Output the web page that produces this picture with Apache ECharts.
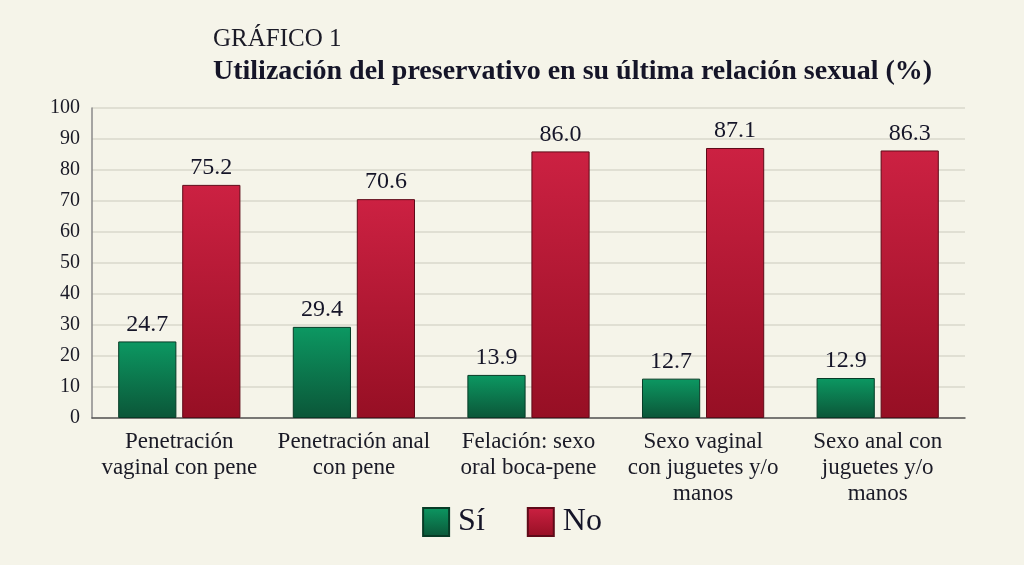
<!DOCTYPE html>
<html>
<head>
<meta charset="utf-8">
<script src="https://cdn.jsdelivr.net/npm/echarts@6/dist/echarts.min.js"></script>
<style>
html, body { margin: 0; padding: 0; background: #f5f4e9; }
#main { width: 1024px; height: 565px; }
</style>
</head>
<body>
<div id="main"></div>
<script>
// datos del gráfico
var categorias = [
    'Penetración\nvaginal con pene',
    'Penetración anal\ncon pene',
    'Felación: sexo\noral boca-pene',
    'Sexo vaginal\ncon juguetes y/o\nmanos',
    'Sexo anal con\njuguetes y/o\nmanos'
];
var valoresSi = [24.7, 29.4, 13.9, 12.7, 12.9];
var valoresNo = [75.2, 70.6, 86.0, 87.1, 86.3];
var ticksY = [0, 10, 20, 30, 40, 50, 60, 70, 80, 90, 100];

var serif = "'Liberation Serif', 'DejaVu Serif', serif";

var verde = new echarts.graphic.LinearGradient(0, 0, 0, 1, [
    {offset: 0, color: '#0c9862'},
    {offset: 1, color: '#0b5638'}
]);
var rojo = new echarts.graphic.LinearGradient(0, 0, 0, 1, [
    {offset: 0, color: '#cc2142'},
    {offset: 1, color: '#960f24'}
]);

var myChart = echarts.init(document.getElementById('main'));
var option = {
    backgroundColor: '#f5f4e9',
    textStyle: {fontFamily: serif},
    title: [
        {
            text: 'GRÁFICO 1',
            left: 208,
            top: 22,
            textStyle: {fontFamily: serif, fontWeight: 'normal', fontSize: 25, color: '#1a1a26'}
        },
        {
            text: 'Utilización del preservativo en su última relación sexual (%)',
            left: 208,
            top: 53,
            textStyle: {fontFamily: serif, fontWeight: 'bold', fontSize: 28, color: '#151528'}
        }
    ],
    legend: {
        bottom: 22,
        left: 'center',
        icon: 'rect',
        itemWidth: 26,
        itemHeight: 28,
        itemGap: 42,
        textStyle: {fontFamily: serif, fontSize: 32, color: '#151528', padding: [0, 0, 0, 4]},
        data: ['Sí', 'No']
    },
    grid: {left: 92, right: 59, top: 108, bottom: 147, containLabel: false},
    xAxis: {
        type: 'category',
        data: categorias,
        axisTick: {show: false},
        axisLine: {lineStyle: {color: '#555555', width: 1.5}},
        axisLabel: {
            interval: 0,
            fontFamily: serif,
            fontSize: 23,
            lineHeight: 26,
            color: '#1a1a26',
            margin: 11
        }
    },
    yAxis: {
        type: 'value',
        min: ticksY[0],
        max: ticksY[ticksY.length - 1],
        interval: 10,
        axisLine: {show: true, lineStyle: {color: '#8a8a8a', width: 1.5}},
        axisTick: {show: false},
        splitLine: {lineStyle: {color: '#d9d8cb', width: 1.5}},
        axisLabel: {fontFamily: serif, fontSize: 20, color: '#1a1a26', margin: 12}
    },
    series: [
        {
            name: 'Sí',
            type: 'bar',
            data: valoresSi,
            barGap: '10%',
            barCategoryGap: '30%',
            itemStyle: {color: verde, borderColor: '#073b26', borderWidth: 1},
            label: {
                show: true,
                position: 'top',
                distance: 5,
                formatter: function (p) { return p.value.toFixed(1); },
                fontFamily: serif,
                fontSize: 24,
                fontWeight: 500,
                color: '#151528'
            }
        },
        {
            name: 'No',
            type: 'bar',
            data: valoresNo,
            itemStyle: {color: rojo, borderColor: '#5e0a18', borderWidth: 1},
            label: {
                show: true,
                position: 'top',
                distance: 5,
                formatter: function (p) { return p.value.toFixed(1); },
                fontFamily: serif,
                fontSize: 24,
                fontWeight: 500,
                color: '#151528'
            }
        }
    ]
};

myChart.setOption(option);
</script>
</body>
</html>
